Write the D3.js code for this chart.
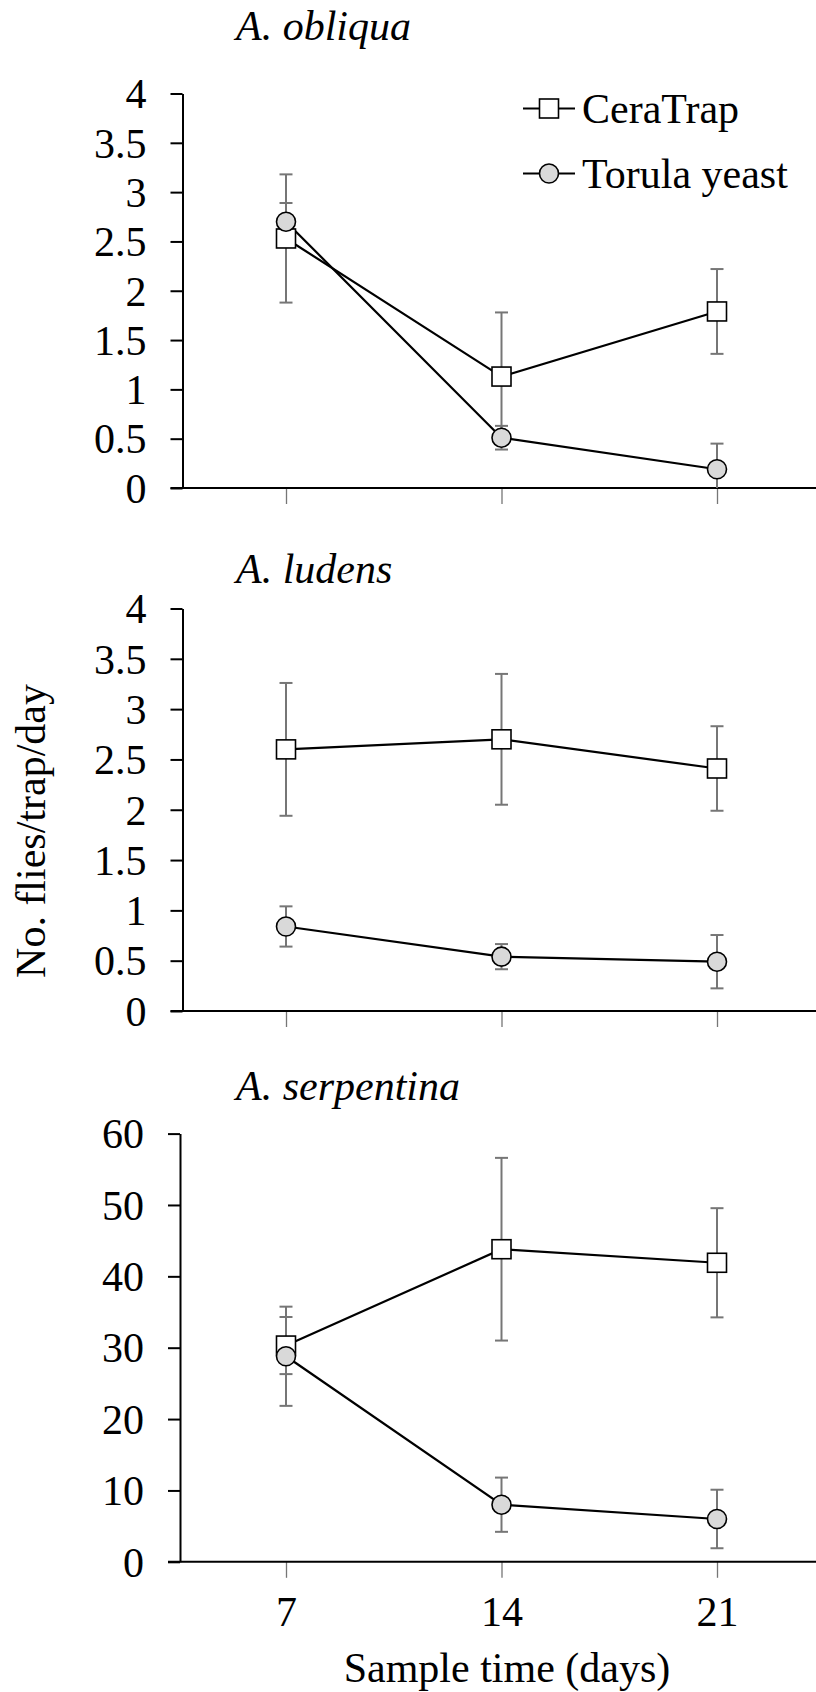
<!DOCTYPE html>
<html>
<head>
<meta charset="utf-8">
<script src="https://cdn.jsdelivr.net/npm/d3@7"></script>
<style>
  body { margin: 0; background: #fff; }
  svg text { font-family: "Liberation Serif", "Times New Roman", serif; fill: #000; }
</style>
</head>
<body>
<div id="chart"></div>
<script>
// data
var days = [7, 14, 21]
var dayLabels = ['7', '14', '21']
var species = ['A. obliqua', 'A. ludens', 'A. serpentina']
var seriesNames = ['CeraTrap', 'Torula yeast']

var ceraMean = [[2.53, 1.13, 1.79], [2.60, 2.70, 2.41], [30.3, 43.8, 41.9]]
var ceraSE = [[0.65, 0.65, 0.43], [0.66, 0.65, 0.42], [4.0, 12.8, 7.65]]
var torulaMean = [[2.70, 0.51, 0.19], [0.84, 0.54, 0.49], [28.8, 8.0, 6.0]]
var torulaSE = [[0.19, 0.12, 0.26], [0.20, 0.125, 0.265], [6.95, 3.8, 4.1]]

var yTicksSmall = [0, 0.5, 1, 1.5, 2, 2.5, 3, 3.5, 4]
var yTicksBig = [0, 10, 20, 30, 40, 50, 60]
var yMax = [4, 4, 60]

// layout
var W = 816, H = 1692
var panels = [
  { top: 93.5, bottom: 488, axisX: 182.5, titleY: 40 },
  { top: 608.5, bottom: 1011, axisX: 182.5, titleY: 583 },
  { top: 1133.6, bottom: 1561.8, axisX: 180, titleY: 1100 }
]
var fontSize = 42
var errColor = '#767676'

var svg = d3.select('#chart').append('svg')
    .attr('width', W)
    .attr('height', H)

var xScale = d3.scaleLinear()
  .domain([7, 21])
  .range([286, 717])

panels.forEach(function (p, i) {
  var g = svg.append('g')

  var yScale = d3.scaleLinear()
    .domain([0, yMax[i]])
    .range([p.bottom, p.top])

  var ticks = i == 2 ? yTicksBig : yTicksSmall

  // x ticks (gray, below the axis)
  var xAxis = d3.axisBottom(xScale)
    .tickValues(days)
    .tickSize(16)
    .tickPadding(18)
    .tickFormat(function (d, k) { return i == 2 ? dayLabels[k] : '' })

  var xg = g.append('g')
      .attr('transform', 'translate(0,' + p.bottom + ')')
      .call(xAxis)
  xg.select('.domain').remove()
  xg.selectAll('line').attr('stroke', errColor).attr('stroke-width', 1.3)
  xg.selectAll('text')
      .style('font-size', fontSize + 'px')
      .attr('fill', '#000')

  // x axis line, runs to the right edge
  g.append('line')
      .attr('x1', p.axisX - 12)
      .attr('x2', W)
      .attr('y1', p.bottom)
      .attr('y2', p.bottom)
      .attr('stroke', '#000')
      .attr('stroke-width', 2)

  // y axis
  var yAxis = d3.axisLeft(yScale)
    .tickValues(ticks)
    .tickSize(12)
    .tickSizeOuter(0)
    .tickPadding(24)
    .tickFormat(function (d) { return String(d) })

  var yg = g.append('g')
      .attr('transform', 'translate(' + p.axisX + ',0)')
      .call(yAxis)
  yg.select('.domain').attr('stroke', '#000').attr('stroke-width', 2)
  yg.selectAll('line').attr('stroke', '#000').attr('stroke-width', 2)
  yg.selectAll('text')
      .style('font-size', fontSize + 'px')
      .attr('fill', '#000')
      .attr('dy', '0.34em')

  // species title
  g.append('text')
      .attr('x', 236)
      .attr('y', p.titleY)
      .style('font-size', fontSize + 'px')
      .style('font-style', 'italic')
      .text(species[i])

  var series = [
    { mean: ceraMean[i], se: ceraSE[i], shape: 'square' },
    { mean: torulaMean[i], se: torulaSE[i], shape: 'circle' }
  ]

  // error bars first
  series.forEach(function (s) {
    var eb = g.append('g').selectAll('g')
        .data(days)
        .enter()
      .append('g')
    eb.append('line')
        .attr('x1', function (d) { return xScale(d) })
        .attr('x2', function (d) { return xScale(d) })
        .attr('y1', function (d, k) { return yScale(s.mean[k] + s.se[k]) })
        .attr('y2', function (d, k) { return yScale(Math.max(0, s.mean[k] - s.se[k])) })
        .attr('stroke', errColor)
        .attr('stroke-width', 2)
    eb.append('line')
        .attr('x1', function (d) { return xScale(d) - 6.5 })
        .attr('x2', function (d) { return xScale(d) + 6.5 })
        .attr('y1', function (d, k) { return yScale(s.mean[k] + s.se[k]) })
        .attr('y2', function (d, k) { return yScale(s.mean[k] + s.se[k]) })
        .attr('stroke', errColor)
        .attr('stroke-width', 2)
    eb.filter(function (d, k) { return s.mean[k] - s.se[k] > 0 })
      .append('line')
        .attr('x1', function (d) { return xScale(d) - 6.5 })
        .attr('x2', function (d) { return xScale(d) + 6.5 })
        .attr('y1', function (d) { var k = days.indexOf(d); return yScale(s.mean[k] - s.se[k]) })
        .attr('y2', function (d) { var k = days.indexOf(d); return yScale(s.mean[k] - s.se[k]) })
        .attr('stroke', errColor)
        .attr('stroke-width', 2)
  })

  // lines
  var line = d3.line()
    .x(function (d, k) { return xScale(days[k]) })
    .y(function (d) { return yScale(d) })

  series.forEach(function (s) {
    g.append('path')
        .datum(s.mean)
        .attr('d', line)
        .attr('fill', 'none')
        .attr('stroke', '#000')
        .attr('stroke-width', 2.2)
  })

  // markers
  series.forEach(function (s) {
    if (s.shape == 'square') {
      g.append('g').selectAll('rect')
          .data(s.mean)
          .enter()
        .append('rect')
          .attr('x', function (d, k) { return xScale(days[k]) - 9.5 })
          .attr('y', function (d) { return yScale(d) - 9.5 })
          .attr('width', 19)
          .attr('height', 19)
          .attr('fill', '#fff')
          .attr('stroke', '#000')
          .attr('stroke-width', 1.6)
    } else {
      g.append('g').selectAll('circle')
          .data(s.mean)
          .enter()
        .append('circle')
          .attr('cx', function (d, k) { return xScale(days[k]) })
          .attr('cy', function (d) { return yScale(d) })
          .attr('r', 9.5)
          .attr('fill', '#d9d9d9')
          .attr('stroke', '#000')
          .attr('stroke-width', 1.6)
    }
  })
})

// legend (top panel)
var legend = svg.selectAll('.legend')
    .data(seriesNames)
    .enter()
  .append('g')
    .attr('class', 'legend')
    .attr('transform', function (d, i) { return 'translate(0,' + (108.5 + i * 65) + ')' })

legend.append('line')
    .attr('x1', 523)
    .attr('x2', 575)
    .attr('stroke', '#000')
    .attr('stroke-width', 2.2)

legend.filter(function (d, i) { return i == 0 })
  .append('rect')
    .attr('x', 539.5)
    .attr('y', -9.5)
    .attr('width', 19)
    .attr('height', 19)
    .attr('fill', '#fff')
    .attr('stroke', '#000')
    .attr('stroke-width', 1.6)

legend.filter(function (d, i) { return i == 1 })
  .append('circle')
    .attr('cx', 549)
    .attr('r', 9.5)
    .attr('fill', '#d9d9d9')
    .attr('stroke', '#000')
    .attr('stroke-width', 1.6)

legend.append('text')
    .attr('x', 582)
    .attr('y', 14.5)
    .style('font-size', fontSize + 'px')
    .text(function (d) { return d })

// axis titles
svg.append('text')
    .attr('transform', 'translate(45,831) rotate(-90)')
    .style('text-anchor', 'middle')
    .style('font-size', fontSize + 'px')
    .text('No. flies/trap/day')

svg.append('text')
    .attr('x', 507)
    .attr('y', 1682)
    .style('text-anchor', 'middle')
    .style('font-size', fontSize + 'px')
    .text('Sample time (days)')
</script>
</body>
</html>
